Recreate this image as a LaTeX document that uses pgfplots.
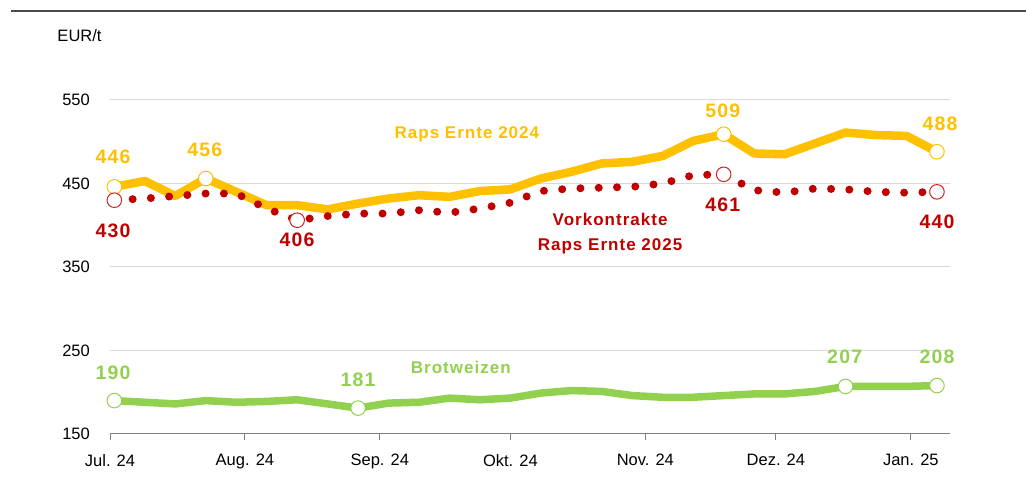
\documentclass[border=0pt]{standalone}
\usepackage{fontspec}
\setmainfont{Liberation Sans}
\newfontfamily\lblfont[LetterSpace=6]{Liberation Sans}
\usepackage{pgfplots}
\pgfplotsset{compat=1.18}
\definecolor{raps}{HTML}{FFC000}
\definecolor{vork}{HTML}{C00000}
\definecolor{weiz}{HTML}{92D050}
\pgfplotstableread{
x raps vork weiz
1 446 430 190
8 453 432 188
15 435 435 186
22 456 438 190
29 440 438 188
36 424 420 189
43 424 406 191
50 419 411 186
57 426 414 181
64 432 414 187
71 436 418 188
78 434 415 193
85 441 420 191
92 443 427 193
99 456 441 199
106 464 444 202
113 474 445 201
120 476 446 196
127 483 450 194
134 501 460 194
141 509 461 196
148 486 442 198
155 485 439 198
162 498 444 201
169 511 443 207
176 508 440 207
183 507 439 207
190 488 440 208
}\datatable
\begin{document}
\begin{tikzpicture}[x=1pt,y=1pt]
\path[use as bounding box] (0,0) rectangle (1026,492);
\draw[color=black!70, line width=1.5pt] (11,481) -- (1026,481);
\node[font=\fontsize{16.5}{18}\selectfont, inner sep=0pt] at (79.5,456) {EUR/t};
\begin{axis}[
  at={(110pt,58pt)}, anchor=south west,
  scale only axis, width=840pt, height=334pt,
  xmin=0, xmax=193, ymin=150, ymax=550,
  axis x line*=bottom, axis y line*=left,
  y axis line style={draw=none},
  x axis line style={color=black!50, line width=1pt},
  xtick={0,31,62,92,123,153,184},
  xticklabels={Jul. 24, Aug. 24, Sep. 24, Okt. 24, Nov. 24, Dez. 24, Jan. 25},
  ytick={150,250,350,450,550},
  ymajorgrids, grid style={color=black!15, line width=1pt},
  xtick align=outside,
  x tick style={color=black!50, line width=1pt}, major tick length=6pt,
  y tick style={draw=none},
  tick label style={font=\fontsize{16.5}{18}\selectfont},
  /pgf/number format/assume math mode=true,
  yticklabel style={inner sep=0pt, anchor=east, xshift=-20pt},
  xticklabel style={inner sep=0pt, anchor=north, yshift=-14pt},
  clip=false,
]
\addplot[weiz, line width=7.5pt, line join=round, line cap=round] table[x=x, y=weiz] {\datatable};
\addplot[raps, line width=8.5pt, line join=round, line cap=round] table[x=x, y=raps] {\datatable};
\addplot[vork, line width=8pt, line cap=round, dash pattern=on 0pt off 18.3pt] table[x=x, y=vork] {\datatable};
\addplot[only marks, mark=*, mark size=7.3pt, mark options={fill=white, draw=weiz, line width=1pt}] coordinates {(1,190) (57,181) (169,207) (190,208)};
\addplot[only marks, mark=*, mark size=7.3pt, mark options={fill=white, draw=raps, line width=1pt}] coordinates {(1,446) (22,456) (141,509) (190,488)};
\addplot[only marks, mark=*, mark size=7.3pt, mark options={fill=white, draw=vork!85, line width=1pt}] coordinates {(1,430) (43,406) (141,461) (190,440)};
% value labels
\begin{scope}[every node/.style={font=\lblfont\bfseries\fontsize{19.5}{22}\selectfont, inner sep=0pt}]
\node[text=raps] at (axis cs:0.7,482.4) {446};
\node[text=raps] at (axis cs:21.8,490.8) {456};
\node[text=raps] at (axis cs:140.8,537.6) {509};
\node[text=raps] at (axis cs:190.7,522) {488};
\node[text=vork] at (axis cs:0.7,393.6) {430};
\node[text=vork] at (axis cs:43,382.8) {406};
\node[text=vork] at (axis cs:140.8,424.8) {461};
\node[text=vork] at (axis cs:190,404.4) {440};
\node[text=weiz] at (axis cs:0.7,223.2) {190};
\node[text=weiz] at (axis cs:57,214.8) {181};
\node[text=weiz] at (axis cs:168.8,242.4) {207};
\node[text=weiz] at (axis cs:190,242.4) {208};
\end{scope}
\begin{scope}[every node/.style={font=\lblfont\bfseries\fontsize{17}{25}\selectfont, inner sep=0pt}]
\node[text=raps] at (axis cs:82,508.8) {Raps Ernte 2024};
\node[text=vork, align=center] at (axis cs:114.9,389.4) {Vorkontrakte\\Raps Ernte 2025};
\node[text=weiz] at (axis cs:80.6,229.2) {Brotweizen};
\end{scope}
\end{axis}
\end{tikzpicture}
\end{document}
